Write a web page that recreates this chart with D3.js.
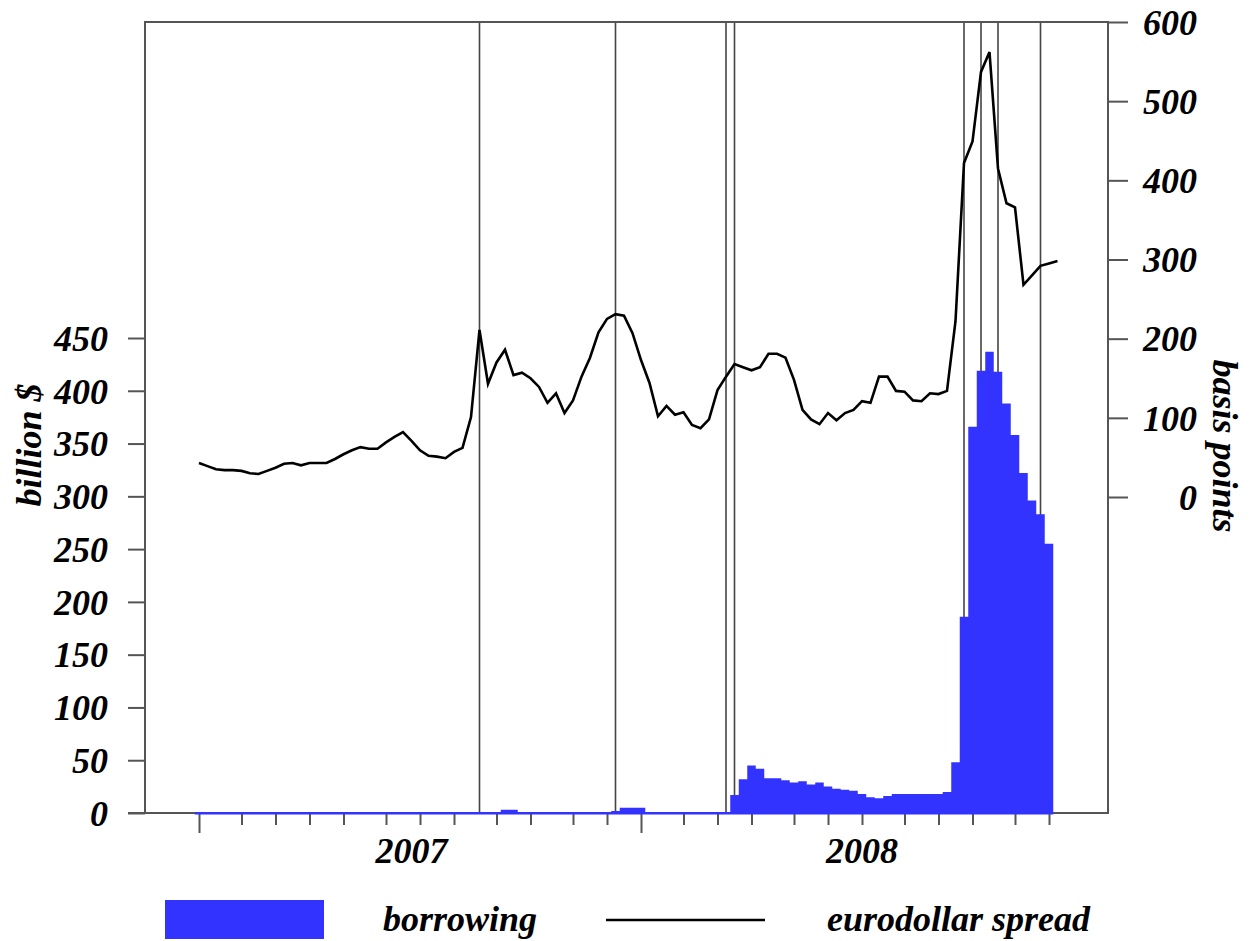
<!DOCTYPE html>
<html>
<head>
<meta charset="utf-8">
<script src="https://cdn.jsdelivr.net/npm/d3@7"></script>
<style>
  body { margin: 0; background: #fff; }
  svg text {
    font-family: "Liberation Serif", "Times New Roman", serif;
    font-weight: bold;
    font-style: italic;
    fill: #000;
  }
</style>
</head>
<body>
<div id="chart"></div>
<script>
// weekly observations (Wednesdays), first one on 2007-01-03
let firstWeek = "2007-01-03";

// borrowing, billion $, weeks 0..100
let borrowing = [
  1, 1, 1, 1, 1, 1, 1, 1, 1, 1,
  1, 1, 1, 1, 1, 1, 1, 1, 1, 1,
  1, 1, 1, 1, 1, 1, 1, 1, 1, 1,
  1, 1, 1, 1, 1, 1, 3, 3, 1, 1,
  1, 1, 1, 1, 1, 1, 1, 1, 1, 2,
  5, 5, 5, 1, 1, 1, 1, 1, 1, 1,
  1, 1, 1, 17, 32, 45, 42, 33, 33, 31,
  29, 30, 27, 29, 25, 23, 22, 21, 18, 15,
  14, 16, 18, 18, 18, 18, 18, 18, 20, 48,
  186, 366, 419, 437, 418, 388, 358, 322, 296, 283,
  255
];

// eurodollar spread, basis points, weeks 0..101
let spread = [
  43, 39, 35, 34, 34, 33, 30, 29, 33, 37,
  42, 43, 40, 43, 43, 43, 48, 54, 59, 63,
  61, 61, 69, 76, 82, 71, 59, 52, 51, 49,
  57, 62, 101, 211, 143, 170, 186, 154, 157, 150,
  139, 119, 131, 106, 122, 152, 176, 208, 225, 231,
  229, 207, 173, 144, 102, 115, 104, 107, 91, 87,
  98, 135, 152, 168, 164, 160, 164, 181, 181, 176,
  148, 110, 98, 92, 106, 97, 106, 110, 121, 119,
  152, 152, 134, 133, 122, 121, 131, 130, 134, 222,
  422, 449, 537, 562, 415, 371, 366, 268, 280, 292,
  295, 298
];

// vertical event lines
let events = [
  "2007-08-22", "2007-12-12", "2008-03-12", "2008-03-19",
  "2008-09-24", "2008-10-08", "2008-10-22", "2008-11-26"
];

let leftTicks = [0, 50, 100, 150, 200, 250, 300, 350, 400, 450];
let rightTicks = [0, 100, 200, 300, 400, 500, 600];
let yearLabels = ["2007", "2008"];
let yearLabelDates = ["2007-06-27", "2008-07-02"];
let legendLabels = ["borrowing", "eurodollar spread"];

let W = 1252, H = 941;
let frame = { left: 145, right: 1108, top: 22, bottom: 813 };
let blue = "#3333ff";
let frameColor = "#555";

let parse = d3.timeParse("%Y-%m-%d");
let t0 = parse(firstWeek);
let weekDate = (i) => d3.timeDay.offset(t0, 7 * i);

let x = d3.scaleTime()
  .domain([weekDate(0), weekDate(100)])
  .range([199, 1049]);

let yL = d3.scaleLinear().domain([0, 450]).range([frame.bottom, 338]);
let yR = d3.scaleLinear().domain([0, 600]).range([497, frame.top]);

let svg = d3.select("#chart")
  .append("svg")
  .attr("width", W)
  .attr("height", H);

// event lines (behind the bars)
svg.append("g")
  .selectAll("line")
  .data(events)
  .join("line")
  .attr("x1", (d) => x(parse(d)))
  .attr("x2", (d) => x(parse(d)))
  .attr("y1", frame.top)
  .attr("y2", frame.bottom)
  .attr("stroke", "#444")
  .attr("stroke-width", 1.6);

// frame
svg.append("path")
  .attr("d", "M" + frame.left + "," + frame.bottom + "V" + frame.top +
    "H" + frame.right + "V" + frame.bottom + "H" + frame.left)
  .attr("fill", "none")
  .attr("stroke", frameColor)
  .attr("stroke-width", 2);

// left axis
let axL = svg.append("g")
  .attr("transform", "translate(" + frame.left + ",0)")
  .call(d3.axisLeft(yL).tickValues(leftTicks).tickSize(17).tickPadding(20));
axL.select(".domain").remove();
axL.selectAll("line").attr("stroke", frameColor).attr("stroke-width", 2);
axL.selectAll("text").attr("font-size", 36).attr("dy", "0.34em");

// right axis, labels right aligned
let axR = svg.append("g")
  .attr("transform", "translate(" + frame.right + ",0)")
  .call(d3.axisRight(yR).tickValues(rightTicks).tickSize(20));
axR.select(".domain").remove();
axR.selectAll("line").attr("stroke", frameColor).attr("stroke-width", 2);
axR.selectAll("text")
  .attr("font-size", 36)
  .attr("text-anchor", "end")
  .attr("x", 89)
  .attr("dy", "0.34em");

// month ticks: first weekly observation of each month
let monthTicks = d3.timeWednesday
  .range(weekDate(0), weekDate(101))
  .filter((d) => d.getDate() <= 7);

let axX = svg.append("g")
  .attr("transform", "translate(0," + frame.bottom + ")")
  .call(d3.axisBottom(x).tickValues(monthTicks).tickFormat(""));
axX.select(".domain").remove();
axX.selectAll("line")
  .attr("y2", (d) => (d.getMonth() === 0 ? 20 : 12))
  .attr("stroke", frameColor)
  .attr("stroke-width", 2);

// bottom line from the 0 tick to the right frame
svg.append("line")
  .attr("x1", frame.left - 17)
  .attr("x2", frame.right)
  .attr("y1", frame.bottom)
  .attr("y2", frame.bottom)
  .attr("stroke", frameColor)
  .attr("stroke-width", 2);

svg.append("g")
  .selectAll("text")
  .data(yearLabels)
  .join("text")
  .attr("x", (d, i) => x(parse(yearLabelDates[i])))
  .attr("y", 863)
  .attr("text-anchor", "middle")
  .attr("font-size", 36)
  .text((d) => d);

// borrowing bars, one per week, drawn as one stepped area so no seams show
let bw = x(weekDate(1)) - x(weekDate(0));
let steps = [];
borrowing.forEach((d, i) => {
  let cx = x(weekDate(i));
  steps.push([cx - bw / 2, d], [cx + bw / 2, d]);
});
let area = d3.area()
  .x((d) => d[0])
  .y0(yL(0) + 1.5)
  .y1((d) => yL(d[1]));

svg.append("path")
  .datum(steps)
  .attr("d", area)
  .attr("fill", blue);

// eurodollar spread line
let line = d3.line()
  .x((d, i) => x(weekDate(i)))
  .y((d) => yR(d));

svg.append("path")
  .datum(spread)
  .attr("d", line)
  .attr("fill", "none")
  .attr("stroke", "#000")
  .attr("stroke-width", 2.6);

// axis titles
svg.append("text")
  .attr("transform", "translate(41,445) rotate(-90)")
  .attr("text-anchor", "middle")
  .attr("font-size", 36)
  .text("billion $");

svg.append("text")
  .attr("transform", "translate(1213,446) rotate(90)")
  .attr("text-anchor", "middle")
  .attr("font-size", 36)
  .text("basis points");

// legend
let legend = svg.append("g");
legend.append("rect")
  .attr("x", 165)
  .attr("y", 900)
  .attr("width", 159)
  .attr("height", 39)
  .attr("fill", blue);
legend.append("text")
  .attr("x", 383)
  .attr("y", 931)
  .attr("font-size", 36)
  .text(legendLabels[0]);
legend.append("line")
  .attr("x1", 606)
  .attr("x2", 765)
  .attr("y1", 920)
  .attr("y2", 920)
  .attr("stroke", "#000")
  .attr("stroke-width", 2.6);
legend.append("text")
  .attr("x", 827)
  .attr("y", 931)
  .attr("font-size", 36)
  .text(legendLabels[1]);
</script>
</body>
</html>
